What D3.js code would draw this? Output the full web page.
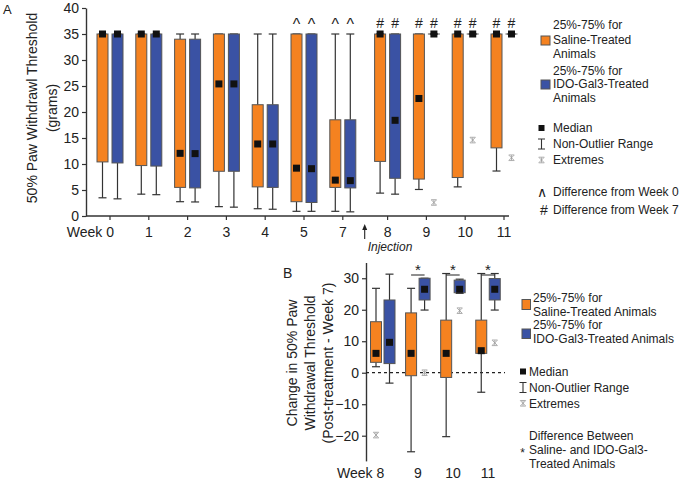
<!DOCTYPE html>
<html><head><meta charset="utf-8">
<script src="https://cdn.jsdelivr.net/npm/d3@7"></script>
<style>
body{margin:0;background:#fff}
text{font-family:Arial,"Liberation Sans",Helvetica,sans-serif;fill:#222}
</style>
</head><body>
<svg id="c" width="680" height="482"></svg>
<script>
// ---------- Panel A data ----------
const weeksA = ["0","1","2","3","4","5","7","8","9","10","11"];
const salineA_q3  = [35,35,34,35,21.4,35,18.5,35,35,35,35];
const salineA_q1  = [10.4,9.7,5.5,8.6,5.6,2.75,5.5,10.5,7.1,7.4,13.1];
const salineA_med = [35,35,12.05,25.4,13.85,9.2,6.9,35,22.6,35,35];
const salineA_lo  = [3.5,4.2,2.75,1.8,1.4,0.9,0.9,4.4,5.1,5.6,8.65];
const salineA_hi  = [35,35,35,35,35,35,35,35,35,35,35];
const idoA_q3  = [35,35,34,35,21.4,35,18.5,35,35,35,35];
const idoA_q1  = [10.2,9.6,5.4,8.6,5.5,2.6,5.4,7.25,35,35,35];
const idoA_med = [35,35,12.0,25.4,13.85,9.1,6.8,18.4,35,35,35];
const idoA_lo  = [3.3,4.1,2.7,1.7,1.3,0.9,0.8,4.2,35,35,35];
const idoA_hi  = [35,35,35,35,35,35,35,35,35,35,35];
const idoA_extremes = [{week:"9",v:2.6},{week:"10",v:14.6},{week:"11",v:11.2}];
const sigA = ["","","","","","^","^","#","#","#","#"];
const ticksA = [0,5,10,15,20,25,30,35,40];

// ---------- Panel B data ----------
const weeksB = ["8","9","10","11"];
const salineB_q3  = [16.2,19.0,16.7,16.7];
const salineB_q1  = [3.3,-0.95,-1.5,6.15];
const salineB_med = [6.15,6.15,6.15,7.0];
const salineB_lo  = [1.9,-25.1,-20.3,-6.2];
const salineB_hi  = [26.8,26.8,31.5,31.5];
const salineB_extremes = [{week:"8",v:-19.8}];
const idoB_q3  = [23.1,30,29.4,29.9];
const idoB_q1  = [2.9,23.1,25.4,23.1];
const idoB_med = [9.65,26.5,26.5,26.5];
const idoB_lo  = [-3.3,19.9,25.2,19.9];
const idoB_hi  = [31.3,30,29.7,31.5];
const idoB_extremes = [{week:"9",v:0},{week:"10",v:19.7},{week:"11",v:9.5}];
const sigB = ["","*","*","*"];
const ticksB = [-20,-10,0,10,20,30];

const ORANGE = "#f58220", BLUE = "#3a52a4", EDGE = "#555", WHISK = "#333", EXT = "#999";

const svg = d3.select("#c");

function drawBox(g, cx, bw, q1, q3, med, lo, hi, color, y) {
  const cap = 8;
  g.append("line").attr("x1",cx).attr("x2",cx).attr("y1",y(hi)).attr("y2",y(q3)).attr("stroke",WHISK).attr("stroke-width",1.2);
  g.append("line").attr("x1",cx).attr("x2",cx).attr("y1",y(q1)).attr("y2",y(lo)).attr("stroke",WHISK).attr("stroke-width",1.2);
  g.append("line").attr("x1",cx-cap/2).attr("x2",cx+cap/2).attr("y1",y(hi)).attr("y2",y(hi)).attr("stroke",WHISK).attr("stroke-width",1.2);
  g.append("line").attr("x1",cx-cap/2).attr("x2",cx+cap/2).attr("y1",y(lo)).attr("y2",y(lo)).attr("stroke",WHISK).attr("stroke-width",1.2);
  g.append("rect").attr("x",cx-bw/2).attr("y",y(q3)).attr("width",bw).attr("height",Math.max(0.01,y(q1)-y(q3)))
    .attr("fill",color).attr("stroke",EDGE).attr("stroke-width",1);
  g.append("rect").attr("x",cx-3.5).attr("y",y(med)-3.5).attr("width",7).attr("height",7).attr("fill","#111");
}
const extPath = "M-2.5,-2.5L2.5,2.5M-2.5,2.5L2.5,-2.5M0,-2.5V2.5M-2.8,-2.8H2.8M-2.8,2.8H2.8";
function drawExt(g, x, yy) {
  g.append("path").attr("d",extPath).attr("transform",`translate(${x},${yy})`).attr("stroke",EXT).attr("stroke-width",0.8).attr("fill","none");
}
function styleAxis(g){
  g.select(".domain").attr("stroke","#333").attr("stroke-width",1.4);
  g.selectAll(".tick line").attr("stroke","#333").attr("stroke-width",1.2);
  g.selectAll(".tick text").attr("font-size",14).attr("font-family","Arial, 'Liberation Sans', sans-serif").attr("fill","#222");
}

// ================= Panel A =================
const yA = d3.scaleLinear().domain([0,40]).range([216,8]);
const ptA = d3.scalePoint().domain(weeksA).range([110,498]);
const xA = w => ptA(w) + (weeksA.indexOf(w) >= 7 ? 6 : 0);
const offA = 7.5, bwA = 11;
const gA = svg.append("g");

svg.append("text").attr("x",3).attr("y",14).attr("font-size",13).text("A");

gA.append("g").attr("transform","translate(86,0)")
  .call(d3.axisLeft(yA).tickValues(ticksA).tickSize(4).tickSizeOuter(0).tickPadding(3))
  .call(styleAxis);
gA.append("line").attr("x1",86).attr("x2",509).attr("y1",216).attr("y2",216).attr("stroke","#333").attr("stroke-width",1.4);
weeksA.forEach((w,i) => {
  gA.append("line").attr("x1",xA(w)).attr("x2",xA(w)).attr("y1",216).attr("y2",220).attr("stroke","#333").attr("stroke-width",1.2);
  gA.append("text").attr("x", i===0 ? xA(w)+4 : xA(w)).attr("y",236.5).attr("font-size",14)
    .attr("text-anchor", i===0 ? "end" : "middle").text(i===0 ? "Week " + w : w);
});
// injection arrow
const injX = (xA("7") + xA("8"))/2 - 0.5;
gA.append("line").attr("x1",injX).attr("x2",injX).attr("y1",239).attr("y2",227).attr("stroke","#222").attr("stroke-width",1.1);
gA.append("path").attr("d",`M${injX-2.5},${230}L${injX},${224}L${injX+2.5},${230}Z`).attr("fill","#222");
gA.append("text").attr("x",injX+3).attr("y",250.5).attr("font-size",12).attr("font-style","italic").text("Injection");

// y title
gA.append("g").attr("transform","translate(32,108) rotate(-90)")
  .append("text").attr("text-anchor","middle").attr("dy","0.35em").attr("font-size",14).text("50% Paw Withdrawl Threshold");
gA.append("g").attr("transform","translate(52,108) rotate(-90)")
  .append("text").attr("text-anchor","middle").attr("dy","0.35em").attr("font-size",14).text("(grams)");

weeksA.forEach((w,i) => {
  drawBox(gA, xA(w)-offA, bwA, salineA_q1[i], salineA_q3[i], salineA_med[i], salineA_lo[i], salineA_hi[i], ORANGE, yA);
  drawBox(gA, xA(w)+offA, bwA, idoA_q1[i], idoA_q3[i], idoA_med[i], idoA_lo[i], idoA_hi[i], BLUE, yA);
  if (sigA[i]) {
    [-offA, offA].forEach(o => {
      gA.append("text").attr("x",xA(w)+o).attr("y", sigA[i]==="^" ? yA(35)-4.3 : yA(35)-6.5)
        .attr("text-anchor","middle").attr("font-size", sigA[i]==="^" ? 16 : 14).text(sigA[i]);
    });
  }
});
idoA_extremes.forEach(e => drawExt(gA, xA(e.week)+offA, yA(e.v)));

// Legend A
const lA = svg.append("g");
const ltA = (x,y,t) => lA.append("text").attr("x",x).attr("y",y).attr("font-size",12).text(t);
ltA(553,29.3,"25%-75% for"); ltA(553,44.3,"Saline-Treated"); ltA(553,57.8,"Animals");
lA.append("rect").attr("x",541).attr("y",36).attr("width",9).attr("height",9).attr("fill",ORANGE).attr("stroke",EDGE);
ltA(553,74.5,"25%-75% for"); ltA(553,88.3,"IDO-Gal3-Treated"); ltA(553,102.3,"Animals");
lA.append("rect").attr("x",541).attr("y",80).attr("width",9).attr("height",9).attr("fill",BLUE).attr("stroke",EDGE);
lA.append("rect").attr("x",538.5).attr("y",125).attr("width",6).attr("height",6).attr("fill","#111");
ltA(553,132.3,"Median");
lA.append("path").attr("d","M538,139H545M541.5,139V149M538,149H545").attr("stroke","#333").attr("stroke-width",1.1).attr("fill","none");
ltA(553,148.3,"Non-Outlier Range");
drawExt(lA, 541.5, 160);
ltA(553,164.3,"Extremes");
lA.append("text").attr("x",541.5).attr("y",197).attr("text-anchor","middle").attr("font-size",14).text("∧");
ltA(553,196.3,"Difference from Week 0");
lA.append("text").attr("x",544).attr("y",215).attr("text-anchor","middle").attr("font-size",14).text("#");
ltA(553,214.3,"Difference from Week 7");

// ================= Panel B =================
const yB = d3.scaleLinear().domain([-28,35]).range([460.9,262.5]);
const xB = d3.scalePoint().domain(weeksB).range([382.75,488]);
const offB = 6.75, bwB = 11;
const gB = svg.append("g");
svg.append("text").attr("x",283).attr("y",278.3).attr("font-size",14).text("B");

gB.append("g").attr("transform","translate(366,0)")
  .call(d3.axisLeft(yB).tickValues(ticksB).tickSize(4).tickSizeOuter(0).tickPadding(3))
  .call(styleAxis);

gB.append("line").attr("x1",366).attr("x2",505).attr("y1",yB(0)).attr("y2",yB(0))
  .attr("stroke","#222").attr("stroke-width",1.2).attr("stroke-dasharray","3,3");

weeksB.forEach((w,i) => {
  gB.append("text").attr("x", i===0 ? xB(w)+1.5 : xB(w)).attr("y",477.7).attr("font-size",14)
    .attr("text-anchor", i===0 ? "end" : "middle").text(i===0 ? "Week " + w : w);
});

const titleB = ["Change in 50% Paw","Withdrawal Threshold","(Post-treatment - Week 7)"];
const titleBx = [291.7,310,328.3];
titleB.forEach((t,i) => {
  gB.append("g").attr("transform",`translate(${titleBx[i]},363) rotate(-90)`)
    .append("text").attr("text-anchor","middle").attr("dy","0.35em").attr("font-size",14).text(t);
});

weeksB.forEach((w,i) => {
  drawBox(gB, xB(w)-offB, bwB, salineB_q1[i], salineB_q3[i], salineB_med[i], salineB_lo[i], salineB_hi[i], ORANGE, yB);
  drawBox(gB, xB(w)+offB, bwB, idoB_q1[i], idoB_q3[i], idoB_med[i], idoB_lo[i], idoB_hi[i], BLUE, yB);
  if (sigB[i]) {
    gB.append("line").attr("x1",xB(w)-offB).attr("x2",xB(w)+offB).attr("y1",275).attr("y2",275).attr("stroke","#333").attr("stroke-width",1.1);
    gB.append("text").attr("x",xB(w)).attr("y",275).attr("text-anchor","middle").attr("font-size",15).text(sigB[i]);
  }
});
salineB_extremes.forEach(e => drawExt(gB, xB(e.week)-offB, yB(e.v)));
idoB_extremes.forEach(e => drawExt(gB, xB(e.week)+offB, yB(e.v)));

// Legend B
const lB = svg.append("g");
const ltB = (x,y,t) => lB.append("text").attr("x",x).attr("y",y).attr("font-size",12).text(t);
lB.append("rect").attr("x",522).attr("y",299.5).attr("width",8.5).attr("height",10).attr("fill",ORANGE).attr("stroke",EDGE);
ltB(533,302,"25%-75% for"); ltB(533,315.5,"Saline-Treated Animals");
lB.append("rect").attr("x",522).attr("y",329).attr("width",8.5).attr("height",9.5).attr("fill",BLUE).attr("stroke",EDGE);
ltB(533,329,"25%-75% for"); ltB(533,342.5,"IDO-Gal3-Treated Animals");
lB.append("rect").attr("x",520).attr("y",368.5).attr("width",6).attr("height",6).attr("fill","#111");
ltB(529,376,"Median");
lB.append("path").attr("d","M519.5,382.5H526.5M523,382.5V392.5M519.5,392.5H526.5").attr("stroke","#333").attr("stroke-width",1.1).attr("fill","none");
ltB(529,391.5,"Non-Outlier Range");
drawExt(lB, 523, 403.3);
ltB(529,407.5,"Extremes");
ltB(529,440,"Difference Between");
lB.append("text").attr("x",522.7).attr("y",457).attr("text-anchor","middle").attr("font-size",12).text("*");
ltB(529,454.3,"Saline- and IDO-Gal3-");
ltB(529,467.6,"Treated Animals");
</script>
</body></html>
